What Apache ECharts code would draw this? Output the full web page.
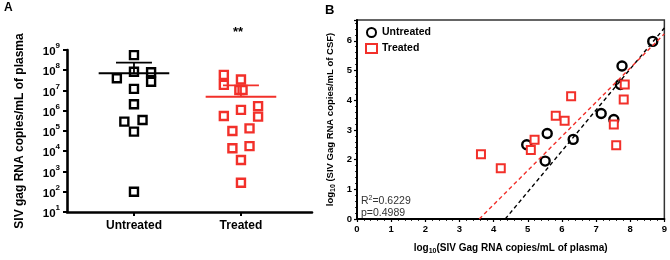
<!DOCTYPE html>
<html>
<head>
<meta charset="utf-8">
<script src="https://cdn.jsdelivr.net/npm/echarts@6/dist/echarts.min.js"></script>
<style>
html,body{margin:0;padding:0;background:#fff;}
#chart{width:670px;height:260px;}
</style>
</head>
<body>
<div id="chart"></div>
<script>
// ---------- Panel A data ----------
const groupCategories = ['Untreated', 'Treated'];
const untreatedCopies = [5.6e8, 4.0e7, 8.5e7, 8.0e7, 2.7e7, 1.2e7, 2.1e6, 2.9e5, 3.5e5, 9.3e4, 1.0e2];
const untreatedJitter = [0, -0.16, 0, 0.16, 0.16, 0, 0, -0.09, 0.08, 0, 0];
const treatedCopies = [5.9e7, 1.9e7, 3.5e7, 1.05e7, 1.05e7, 1.1e6, 5.5e5, 1.7e6, 5.1e5, 1.0e5, 1.35e5, 1.4e4, 1.8e4, 3.7e3, 2.8e2];
const treatedJitter = [-0.16, -0.16, 0, -0.015, 0.015, 0, -0.16, 0.16, 0.16, -0.08, 0.08, -0.08, 0.08, 0, 0];
const groupMeans = [7.1e7, 4.9e6];
const groupUpperBars = [2.36e8, 1.8e7];
const logTickExponents = [1, 2, 3, 4, 5, 6, 7, 8, 9];
const significanceLabel = '**';

// ---------- Panel B data ----------
const untreatedPlasmaLog = [8.66, 7.76, 7.71, 7.15, 7.52, 5.57, 4.97, 6.33, 5.51];
const untreatedCsfLog    = [5.98, 5.15, 4.53, 3.55, 3.35, 2.88, 2.50, 2.68, 1.95];
const treatedPlasmaLog = [6.27, 5.82, 6.08, 7.84, 7.81, 7.52, 7.59, 5.20, 5.09, 3.63, 4.21];
const treatedCsfLog    = [4.13, 3.48, 3.31, 4.53, 4.02, 3.18, 2.48, 2.67, 2.32, 2.18, 1.71];
const regressionSlopes = [1.38, 1.15];      // untreated, treated
const regressionXIntercepts = [4.34, 3.58]; // untreated, treated
const panelBXTicks = [0, 1, 2, 3, 4, 5, 6, 7, 8, 9];
const panelBYTicks = [0, 1, 2, 3, 4, 5, 6];
const statsText = ['R{sup|2}=0.6229', 'p=0.4989'];

const RED = '#f2302a';
const FONT = 'Liberation Sans, Arial, sans-serif';

const chart = echarts.init(document.getElementById('chart'), null, {renderer: 'canvas'});

function groupPoints(values, jitter, center) {
  return values.map((v, i) => [center + jitter[i], v]);
}
const untreatedPts = groupPoints(untreatedCopies, untreatedJitter, 1);
const treatedPts = groupPoints(treatedCopies, treatedJitter, 2);

// mean / error bar line segments
const meanHalf = 0.33, barHalf = 0.168;
function barSegments(gi) {
  const c = gi + 1;
  return [
    [c - meanHalf, groupMeans[gi]], [c + meanHalf, groupMeans[gi]], [null, null],
    [c, groupMeans[gi]], [c, groupUpperBars[gi]], [null, null],
    [c - barHalf, groupUpperBars[gi]], [c + barHalf, groupUpperBars[gi]]
  ];
}

function regLine(i) {
  const x0 = regressionXIntercepts[i];
  const x1 = panelBXTicks[panelBXTicks.length - 1];
  return [[x0, 0], [x1, regressionSlopes[i] * (x1 - x0)]];
}

const option = {
  animation: false,
  textStyle: {fontFamily: FONT},
  grid: [
    {left: 67, top: 50, width: 245, height: 162, show: false},
    {left: 357, top: 20, width: 309, height: 207, show: true, borderColor: '#333', borderWidth: 1.5, backgroundColor: 'transparent'}
  ],
  xAxis: [
    {
      gridIndex: 0, type: 'value', min: 0.374, max: 2.664,
      axisLine: {show: true, onZero: false, lineStyle: {color: '#000', width: 2.6}},
      axisTick: {show: true, customValues: [1, 2], length: 4, lineStyle: {color: '#000', width: 2}},
      axisLabel: {show: true, customValues: [1, 2], formatter: v => groupCategories[Math.round(v) - 1],
        color: '#000', fontWeight: 'bold', fontSize: 12, margin: 8, fontFamily: FONT},
      splitLine: {show: false}
    },
    {
      gridIndex: 1, type: 'value', min: 0, max: 9, interval: 1,
      name: '{a|log}{s|10}{a|(SIV Gag RNA copies/mL of plasma)}',
      nameLocation: 'middle', nameGap: 22,
      nameTextStyle: {rich: {
        a: {fontSize: 10, fontWeight: 'bold', color: '#000', fontFamily: FONT, lineHeight: 14, verticalAlign: 'middle'},
        s: {fontSize: 7, fontWeight: 'bold', color: '#000', fontFamily: FONT, lineHeight: 14, verticalAlign: 'bottom'}
      }},
      axisLine: {show: true, onZero: false, lineStyle: {color: '#000', width: 2}},
      axisTick: {show: true, length: 3, lineStyle: {color: '#000', width: 1.2}},
      minorTick: {show: true, splitNumber: 5, length: 2, lineStyle: {color: '#000', width: 0.8}},
      axisLabel: {color: '#000', fontWeight: 'bold', fontSize: 9.5, margin: 5, fontFamily: FONT,
        formatter: v => panelBXTicks.includes(v) ? String(v) : ''},
      splitLine: {show: false}
    }
  ],
  yAxis: [
    {
      gridIndex: 0, type: 'log', logBase: 10, min: 10, max: 1e9,
      name: 'SIV gag RNA copies/mL of plasma', nameLocation: 'middle', nameGap: 41,
      nameTextStyle: {fontSize: 12, fontWeight: 'bold', color: '#000', fontFamily: FONT},
      axisLine: {show: true, lineStyle: {color: '#000', width: 2.6}},
      axisTick: {show: true, customValues: logTickExponents.map(e => Math.pow(10, e)), length: 4, lineStyle: {color: '#000', width: 2}},
      axisLabel: {
        customValues: logTickExponents.map(e => Math.pow(10, e)),
        formatter: v => '{b|10}{sup|' + Math.round(Math.log10(v)) + '}',
        margin: 7,
        rich: {
          b: {fontSize: 11.5, fontWeight: 'bold', color: '#000', fontFamily: FONT, lineHeight: 16, verticalAlign: 'bottom'},
          sup: {fontSize: 8, fontWeight: 'bold', color: '#000', fontFamily: FONT, lineHeight: 16, verticalAlign: 'top'}
        }
      },
      splitLine: {show: false}
    },
    {
      gridIndex: 1, type: 'value', min: 0, max: 6.7, interval: 1,
      name: '{a|log}{s|10}{a| (SIV Gag RNA copies/mL of CSF)}',
      nameLocation: 'middle', nameGap: 20,
      nameTextStyle: {rich: {
        a: {fontSize: 9.5, fontWeight: 'bold', color: '#000', fontFamily: FONT, lineHeight: 14, verticalAlign: 'middle'},
        s: {fontSize: 7, fontWeight: 'bold', color: '#000', fontFamily: FONT, lineHeight: 14, verticalAlign: 'bottom'}
      }},
      axisLine: {show: true, onZero: false, lineStyle: {color: '#000', width: 2}},
      axisTick: {show: true, length: 3, lineStyle: {color: '#000', width: 1.2}},
      minorTick: {show: true, splitNumber: 5, length: 2, lineStyle: {color: '#000', width: 0.8}},
      axisLabel: {color: '#000', fontWeight: 'bold', fontSize: 9.5, margin: 5, fontFamily: FONT, showMaxLabel: false,
        formatter: v => panelBYTicks.includes(v) ? String(v) : ''},
      splitLine: {show: false}
    }
  ],
  legend: {
    left: 360, top: 22, orient: 'vertical', itemGap: 5, itemWidth: 11, itemHeight: 9,
    textStyle: {fontSize: 10.5, fontWeight: 'bold', color: '#000', fontFamily: FONT},
    data: ['Untreated', 'Treated']
  },
  graphic: [
    {type: 'text', left: 4, top: 2, style: {text: 'A', font: 'bold 12px ' + FONT, fill: '#000'}},
    {type: 'text', left: 325, top: 4, style: {text: 'B', font: 'bold 13px ' + FONT, fill: '#000'}},
    {type: 'text', left: 233, top: 26, style: {text: significanceLabel, font: 'bold 13px ' + FONT, fill: '#000'}},
    {type: 'text', left: 361, top: 195, style: {
      text: statsText.join('\n'),
      rich: {
        sup: {fontSize: 7, fill: '#333', fontFamily: FONT, verticalAlign: 'top', lineHeight: 12}
      },
      font: '10.5px ' + FONT, fill: '#333', lineHeight: 12
    }}
  ],
  series: [
    {
      name: 'UntreatedA', type: 'scatter', xAxisIndex: 0, yAxisIndex: 0, data: untreatedPts,
      symbol: 'rect', symbolSize: 8, itemStyle: {color: '#fff', borderColor: '#000', borderWidth: 2.4, opacity: 1}, z: 3, silent: true
    },
    {
      name: 'TreatedA', type: 'scatter', xAxisIndex: 0, yAxisIndex: 0, data: treatedPts,
      symbol: 'rect', symbolSize: 8, itemStyle: {color: '#fff', borderColor: RED, borderWidth: 2.4, opacity: 1}, z: 3, silent: true
    },
    {
      type: 'line', xAxisIndex: 0, yAxisIndex: 0, data: barSegments(0), connectNulls: false,
      symbol: 'none', lineStyle: {color: '#000', width: 1.8}, z: 5, silent: true
    },
    {
      type: 'line', xAxisIndex: 0, yAxisIndex: 0, data: barSegments(1), connectNulls: false,
      symbol: 'none', lineStyle: {color: RED, width: 1.8}, z: 5, silent: true
    },
    {
      name: 'Untreated', type: 'scatter', xAxisIndex: 1, yAxisIndex: 1,
      data: untreatedPlasmaLog.map((x, i) => [x, untreatedCsfLog[i]]),
      symbol: 'circle', symbolSize: 9, itemStyle: {color: '#fff', borderColor: '#000', borderWidth: 2.4, opacity: 1}, z: 3
    },
    {
      name: 'Treated', type: 'scatter', xAxisIndex: 1, yAxisIndex: 1,
      data: treatedPlasmaLog.map((x, i) => [x, treatedCsfLog[i]]),
      symbol: 'rect', symbolSize: 8, itemStyle: {color: '#fff', borderColor: RED, borderWidth: 2, opacity: 1}, z: 3
    },
    {
      type: 'line', xAxisIndex: 1, yAxisIndex: 1, data: regLine(0), symbol: 'none', clip: true,
      lineStyle: {color: '#000', width: 1.4, type: [4, 3]}, z: 4, silent: true
    },
    {
      type: 'line', xAxisIndex: 1, yAxisIndex: 1, data: regLine(1), symbol: 'none', clip: true,
      lineStyle: {color: RED, width: 1.4, type: [4, 3]}, z: 4, silent: true
    }
  ]
};
chart.setOption(option);
</script>
</body>
</html>
